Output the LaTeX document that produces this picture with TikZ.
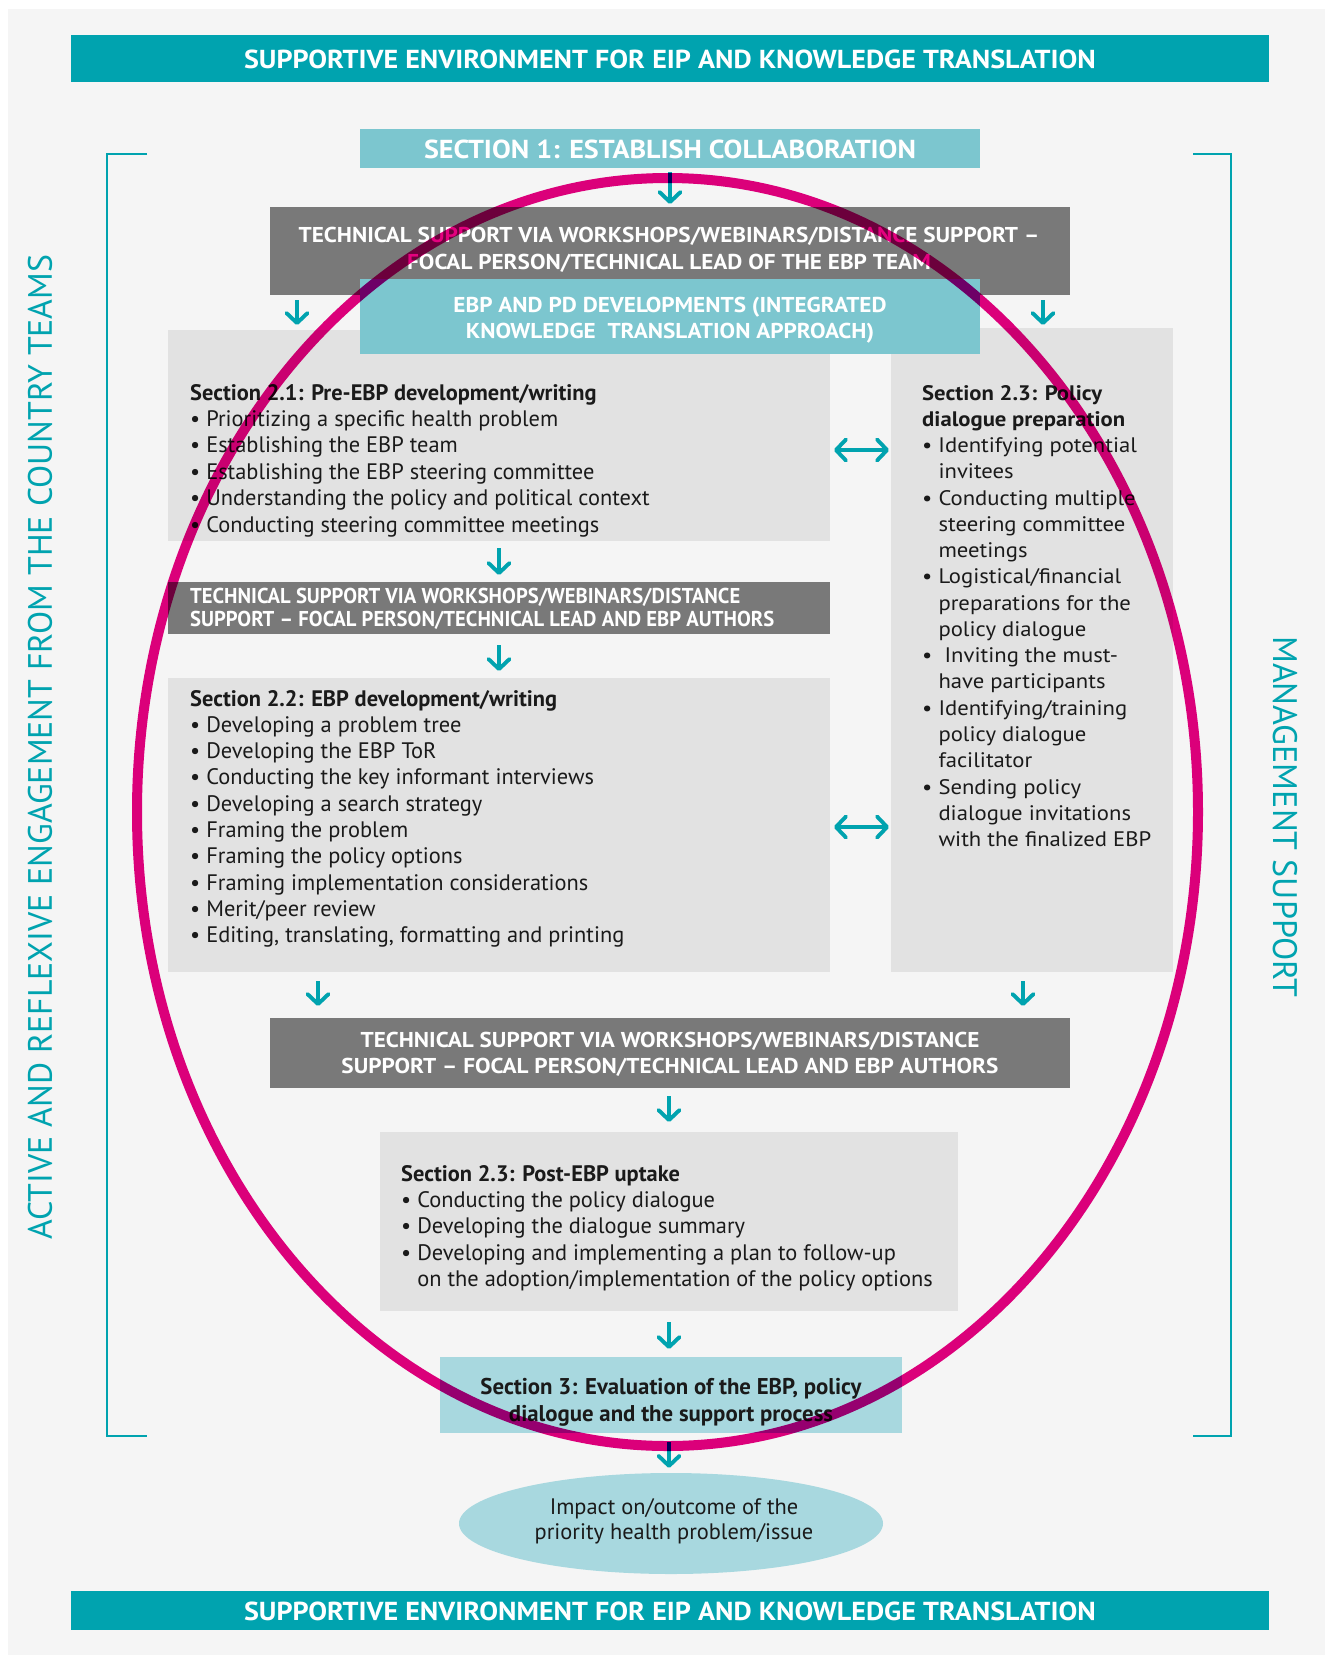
\documentclass[tikz,border=0pt]{standalone}
\usepackage{fontspec}
\setmainfont{PT Sans}
\newfontfamily\widefont[FakeStretch=1.08,Ligatures=TeX]{PT Sans}
\newfontfamily\tsfont[FakeStretch=0.96,Ligatures=TeX]{PT Sans}
\usetikzlibrary{arrows.meta,calc}
\definecolor{bgc}{HTML}{F5F5F5}
\definecolor{teal}{HTML}{00A3AF}
\definecolor{secc}{HTML}{7CC6CF}
\definecolor{greyc}{HTML}{797979}
\definecolor{lightc}{HTML}{E2E2E2}
\definecolor{paleteal}{HTML}{A8D8DF}
\definecolor{magc}{HTML}{E4007F}
\definecolor{txtc}{HTML}{1A1A1A}
\tikzset{
  fillbox/.style={inner sep=0pt, outer sep=0pt, anchor=north west},
  arr/.style={draw=teal, line width=3.9pt, -{Straight Barb[length=10pt,width=21pt,round]}},
  darr/.style={draw=teal, line width=3.9pt, {Straight Barb[length=10pt,width=21pt,round]}-{Straight Barb[length=10pt,width=21pt,round]}},
  whitecap/.style={text=white, align=center, inner sep=0pt, font=\widefont\bfseries\fontsize{21.5}{27}\selectfont},
  bannertext/.style={text=white, inner sep=0pt, font=\widefont\bfseries\fontsize{26}{30}\selectfont},
  body/.style={text=txtc, align=left, inner sep=0pt, anchor=base west, font=\fontsize{22.4}{26.4}\selectfont},
  bodyc/.style={text=txtc, align=center, inner sep=0pt, font=\fontsize{22.4}{25}\selectfont},
}
\begin{document}
\begin{tikzpicture}[x=1pt,y=-1pt]
\useasboundingbox (0,0) rectangle (1325,1655);
\fill[white] (0,0) rectangle (1325,1655);
\fill[bgc] (8,9) rectangle (1325,1655);

% banners
\node[fillbox, fill=teal, minimum width=1198, minimum height=47] (bt) at (71,35) {};
\node[bannertext] (btt) at (670,59.5) {SUPPORTIVE ENVIRONMENT FOR EIP AND KNOWLEDGE TRANSLATION};
\node[fillbox, fill=teal, minimum width=1198, minimum height=39] (bb) at (71,1591) {};
\node[bannertext] (bbt) at (670,1611) {SUPPORTIVE ENVIRONMENT FOR EIP AND KNOWLEDGE TRANSLATION};

% brackets
\coordinate (lb1) at (147,154); \coordinate (lb2) at (147,1436);
\coordinate (rb1) at (1193,154); \coordinate (rb2) at (1193,1436);
\draw[teal, line width=2.6pt] (lb1) -- (107,154) -- (107,1436) -- (lb2);
\draw[teal, line width=2.6pt] (rb1) -- (1231,154) -- (1231,1436) -- (rb2);
\node[text=teal, rotate=90, inner sep=0pt, font=\fontsize{33.8}{36}\selectfont] (lt) at (40,747) {ACTIVE AND REFLEXIVE ENGAGEMENT FROM THE COUNTRY TEAMS};
\node[text=teal, rotate=-90, inner sep=0pt, font=\fontsize{34}{36}\selectfont] (rt) at (1285,817) {MANAGEMENT SUPPORT};

% section 1
\node[fillbox, fill=secc, minimum width=620, minimum height=39] (sec1) at (360,129) {};
\node[bannertext] (sec1t) at (670,149) {SECTION 1: ESTABLISH COLLABORATION};

% technical support 1
\node[fillbox, fill=greyc, minimum width=800, minimum height=88] (ts1) at (270,207) {};
\node[whitecap] (ts1t) at (669,249.5) {TECHNICAL SUPPORT VIA WORKSHOPS/WEBINARS/DISTANCE SUPPORT –\\FOCAL PERSON/TECHNICAL LEAD OF THE EBP TEAM};

% boxes 2.1 / 2.3
\node[fillbox, fill=lightc, minimum width=662, minimum height=211] (s21) at (168,330) {};
\node[fillbox, fill=lightc, minimum width=282, minimum height=644] (s23) at (891,328) {};

% EBP developments
\node[fillbox, fill=secc, minimum width=620, minimum height=75] (ebp) at (360,279) {};
\node[whitecap, font=\widefont\bfseries\fontsize{21.5}{25.5}\selectfont] (ebpt) at (670,320) {EBP AND PD DEVELOPMENTS (INTEGRATED\\KNOWLEDGE\ \ TRANSLATION APPROACH)};

\node[body] (s21t) at (190,532) {\textbf{Section 2.1: Pre-EBP development/writing}\\
\textbullet\ Prioritizing a specific health problem\\
\textbullet\ Establishing the EBP team\\
\textbullet\ Establishing the EBP steering committee\\
\textbullet\ Understanding the policy and political context\\
\textbullet\ Conducting steering committee meetings};

\node[body, font=\widefont\fontsize{21}{26.27}\selectfont] (s23t) at (922,846.6) {\textbf{Section 2.3: Policy}\\
\textbf{dialogue preparation}\\
\textbullet\ Identifying potential\\
\phantom{\textbullet\ }invitees\\
\textbullet\ Conducting multiple\\
\phantom{\textbullet\ }steering committee\\
\phantom{\textbullet\ }meetings\\
\textbullet\ Logistical/financial\\
\phantom{\textbullet\ }preparations for the\\
\phantom{\textbullet\ }policy dialogue\\
\textbullet\ \ Inviting the must-\\
\phantom{\textbullet\ }have participants\\
\textbullet\ Identifying/training\\
\phantom{\textbullet\ }policy dialogue\\
\phantom{\textbullet\ }facilitator\\
\textbullet\ Sending policy\\
\phantom{\textbullet\ }dialogue invitations\\
\phantom{\textbullet\ }with the finalized EBP};

% technical support 2
\node[fillbox, fill=greyc, minimum width=662, minimum height=52] (ts2) at (168,582) {};
\node[text=white, align=left, inner sep=0pt, anchor=base west, font=\tsfont\bfseries\fontsize{21.5}{23}\selectfont] (ts2t) at (190,626.5) {TECHNICAL SUPPORT VIA WORKSHOPS/WEBINARS/DISTANCE\\SUPPORT – FOCAL PERSON/TECHNICAL LEAD AND EBP AUTHORS};

% box 2.2
\node[fillbox, fill=lightc, minimum width=662, minimum height=294] (s22) at (168,678) {};
\node[body, font=\fontsize{22.4}{26.3}\selectfont] (s22t) at (190,942.7) {\textbf{Section 2.2: EBP development/writing}\\
\textbullet\ Developing a problem tree\\
\textbullet\ Developing the EBP ToR\\
\textbullet\ Conducting the key informant interviews\\
\textbullet\ Developing a search strategy\\
\textbullet\ Framing the problem\\
\textbullet\ Framing the policy options\\
\textbullet\ Framing implementation considerations\\
\textbullet\ Merit/peer review\\
\textbullet\ Editing, translating, formatting and printing};

% technical support 3
\node[fillbox, fill=greyc, minimum width=800, minimum height=70] (ts3) at (270,1018) {};
\node[whitecap, font=\widefont\bfseries\fontsize{21.5}{26}\selectfont] (ts3t) at (670,1054) {TECHNICAL SUPPORT VIA WORKSHOPS/WEBINARS/DISTANCE\\SUPPORT – FOCAL PERSON/TECHNICAL LEAD AND EBP AUTHORS};

% post EBP
\node[fillbox, fill=lightc, minimum width=578, minimum height=179] (post) at (380,1132) {};
\node[body] (postt) at (401,1286.6) {\textbf{Section 2.3: Post-EBP uptake}\\
\textbullet\ Conducting the policy dialogue\\
\textbullet\ Developing the dialogue summary\\
\textbullet\ Developing and implementing a plan to follow-up\\
\phantom{\textbullet\ }on the adoption/implementation of the policy options};

% section 3
\node[fillbox, fill=paleteal, minimum width=462, minimum height=76] (sec3) at (440,1357) {};
\node[bodyc, font=\bfseries\fontsize{22.8}{26.6}\selectfont] (sec3t) at (671,1402) {Section 3: Evaluation of the EBP, policy\\dialogue and the support process};

% impact ellipse
\fill[paleteal] (671,1523.5) ellipse [x radius=212, y radius=50.5];
\node[inner sep=0pt, minimum width=424, minimum height=101] (imp) at (671,1523.5) {};
\node[bodyc] (impt) at (674,1521.5) {Impact on/outcome of the\\priority health problem/issue};

% arrows
\draw[arr, shorten <=4pt, shorten >=3pt] (sec1.south) -- (sec1.south |- ts1.north);
\draw[arr, shorten <=5pt, shorten >=5pt] ([xshift=27pt]ts1.south west) -- ([xshift=27pt]ts1.south west |- s21.north);
\draw[arr, shorten <=5pt, shorten >=3pt] ([xshift=-27pt]ts1.south east) -- ([xshift=-27pt]ts1.south east |- s23.north);
\draw[arr, shorten <=7pt, shorten >=7pt] ([xshift=331pt]s21.south west) -- ([xshift=331pt]s21.south west |- ts2.north);
\draw[arr, shorten <=11pt, shorten >=7pt] ([xshift=331pt]ts2.south west) -- ([xshift=331pt]ts2.south west |- s22.north);
\draw[darr, shorten <=4pt, shorten >=2pt] (s21.east |- 0,450) -- (s23.west |- 0,450);
\draw[darr, shorten <=4pt, shorten >=2pt] (s22.east |- 0,827) -- (s23.west |- 0,827);
\draw[arr, shorten <=9pt, shorten >=12pt] ([xshift=150pt]s22.south west) -- ([xshift=150pt]s22.south west |- ts3.north);
\draw[arr, shorten <=9pt, shorten >=12pt] ([xshift=132pt]s23.south west) -- ([xshift=132pt]s23.south west |- ts3.north);
\draw[arr, shorten <=8pt, shorten >=10pt] ([xshift=-1pt]ts3.south) -- ([xshift=-1pt]ts3.south |- post.north);
\draw[arr, shorten <=11pt, shorten >=8pt] (post.south) -- (post.south |- sec3.north);
\draw[arr, shorten <=9pt, shorten >=5pt] ([xshift=-2pt]sec3.south) -- ([xshift=-2pt]sec3.south |- imp.north);

% magenta ellipse
\begin{scope}[blend mode=multiply]
\draw[magc, line width=10pt] (667.5,812) ellipse [x radius=530.5, y radius=634];
\end{scope}
\end{tikzpicture}
\end{document}
